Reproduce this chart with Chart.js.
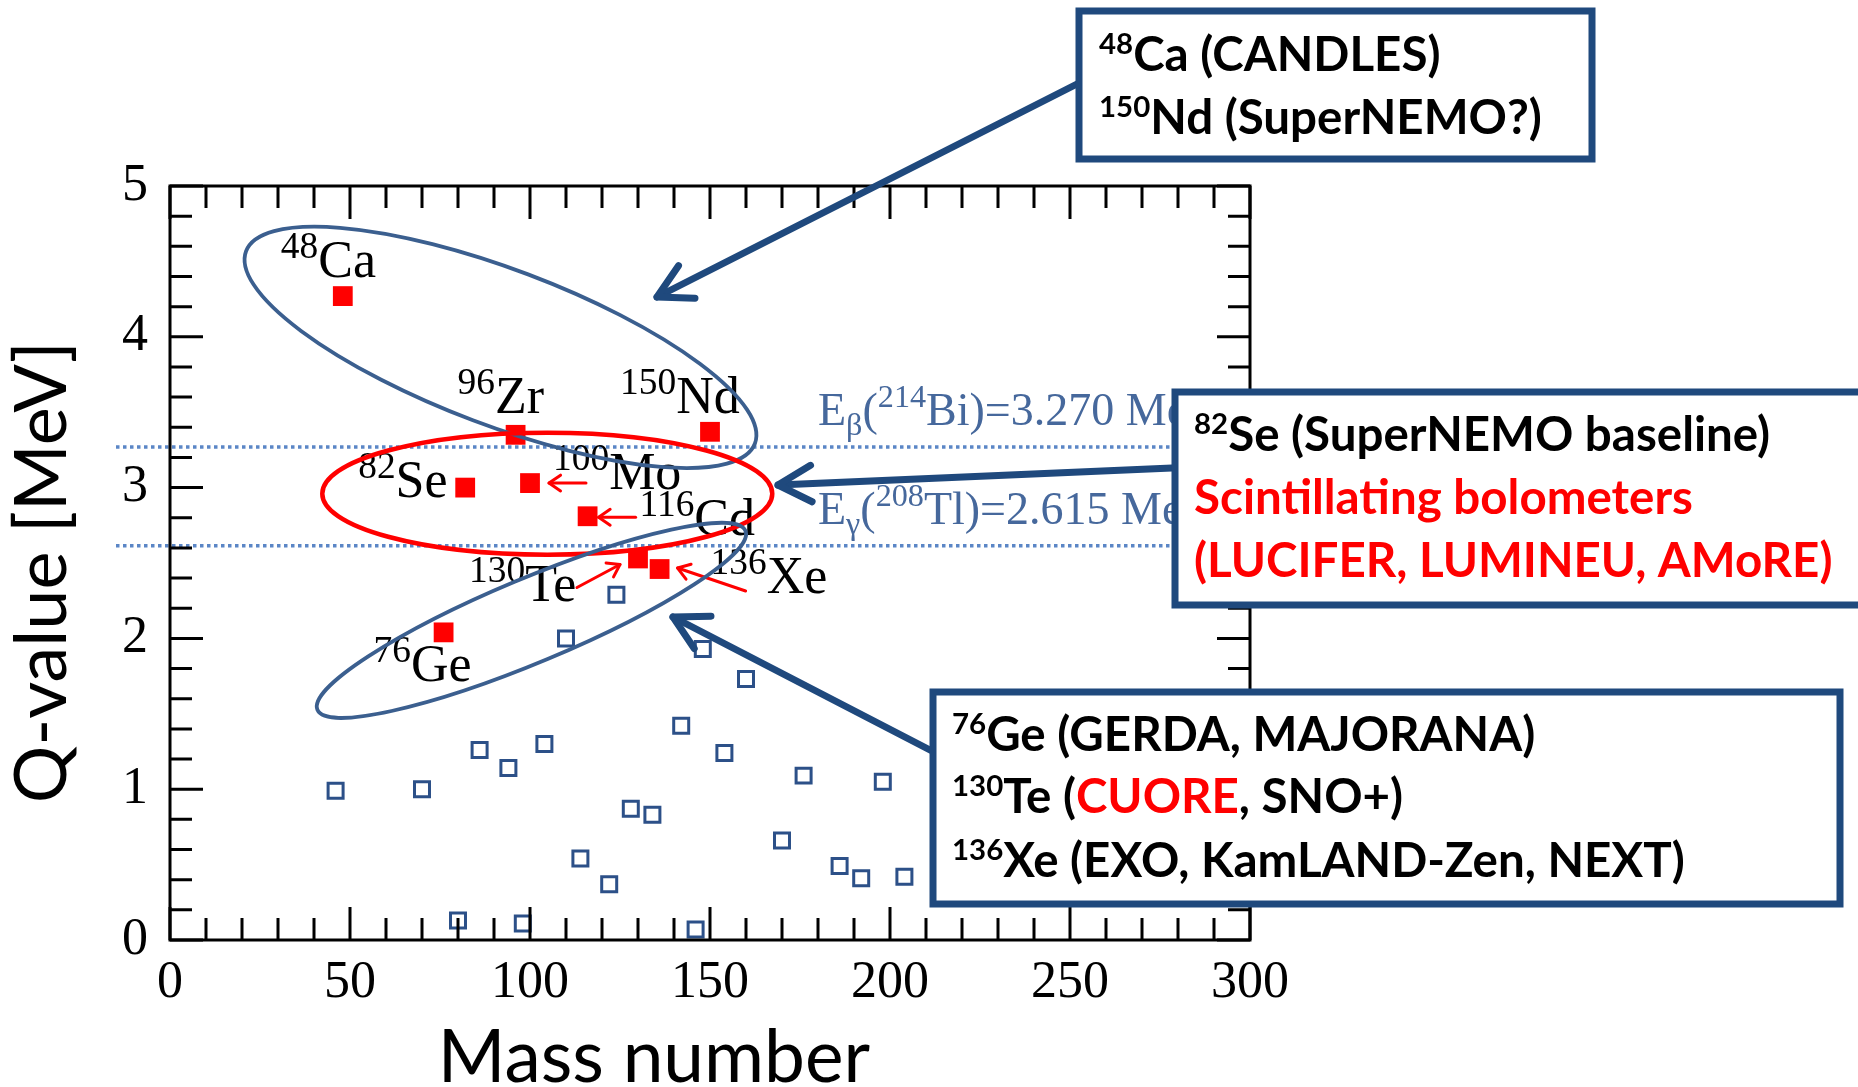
<!DOCTYPE html>
<html>
<head>
<meta charset="utf-8">
<script src="https://cdn.jsdelivr.net/npm/chart.js@4.4.0/dist/chart.umd.min.js"></script>
<style>
  html, body { margin: 0; padding: 0; background: #fff; }
  canvas { display: block; }
</style>
</head>
<body>
<canvas id="chart" width="1858" height="1087"></canvas>
<script>
// isotopes used by experiments (filled red squares)
const massRed = [48, 76, 82, 96, 100, 116, 130, 136, 150];
const qRed = [4.27, 2.04, 3.00, 3.35, 3.03, 2.81, 2.53, 2.46, 3.37];
const isoMass = ['48', '76', '82', '96', '100', '116', '130', '136', '150'];
const isoSymbol = ['Ca', 'Ge', 'Se', 'Zr', 'Mo', 'Cd', 'Te', 'Xe', 'Nd'];

// other double beta emitters (open squares)
const massBlue = [46, 70, 80, 86, 94, 98, 104, 110, 114, 122, 124, 128, 134, 142, 146, 148, 154, 160, 170, 176, 186, 192, 198, 204];
const qBlue = [0.99, 1.00, 0.13, 1.26, 1.14, 0.11, 1.30, 2.00, 0.54, 0.37, 2.29, 0.87, 0.83, 1.42, 0.07, 1.93, 1.24, 1.73, 0.66, 1.09, 0.49, 0.41, 1.05, 0.42];

// background lines (MeV)
const refLevels = [3.270, 2.615];

// axes
const xTicks = [0, 50, 100, 150, 200, 250, 300];
const yTicks = [0, 1, 2, 3, 4, 5];
const xMinorStep = 10;
const yMinorStep = 0.2;

const SERIF = '"Liberation Serif", "Times New Roman", serif';
const SANS = 'Lato, "Open Sans", sans-serif';
const NAVY = '#1f497d';
const RED = '#ff0000';
const STEEL = '#3b5f8f';

// label placement, px offsets from the marker
const labelLayout = [
    { dx: -62, dy: -19 },                              // Ca
    { dx: -70, dy: 49 },                               // Ge
    { dx: -107, dy: 9 },                               // Se
    { dx: -58, dy: -22 },                              // Zr
    { dx: 23, dy: 6, arrow: [56, 0, 19, 0] },          // Mo
    { dx: 52, dy: 19, arrow: [48, 1, 11, 1] },         // Cd
    { dx: -169, dy: 43, arrow: [-61, 29, -18, 6] },    // Te
    { dx: 51, dy: 24, arrow: [86, 22, 18, -1] },       // Xe
    { dx: -90, dy: -19 }                               // Nd
];

const refText = [
    [{ t: 'E' }, { t: 'β', sub: true }, { t: '(' }, { t: '214', sup: true }, { t: 'Bi)=3.270 MeV' }],
    [{ t: 'E' }, { t: 'γ', sub: true }, { t: '(' }, { t: '208', sup: true }, { t: 'Tl)=2.615 MeV' }]
];

// groups circled on the plot (centre in data units, radii in px)
const ellipses = [
    { x: 91.8, y: 3.93, rx: 272, ry: 78, rot: 20.7, color: STEEL, width: 3.8 },
    { x: 104.8, y: 2.96, rx: 225, ry: 61, rot: 0, color: RED, width: 4.5 },
    { x: 100.4, y: 2.12, rx: 232, ry: 42, rot: -22.7, color: STEEL, width: 3.8 }
];

// call-out boxes
const boxes = [
    {
        left: 1079, top: 11, right: 1592, bottom: 159, textX: 1099, baselines: [71, 134],
        lines: [
            [{ t: '48', sup: true }, { t: 'Ca (CANDLES)' }],
            [{ t: '150', sup: true }, { t: 'Nd (SuperNEMO?)' }]
        ]
    },
    {
        left: 1175, top: 392, right: 1900, bottom: 605, textX: 1194, baselines: [451, 514, 577],
        lines: [
            [{ t: '82', sup: true }, { t: 'Se (SuperNEMO baseline)' }],
            [{ t: 'Scintillating bolometers', color: RED }],
            [{ t: '(LUCIFER, LUMINEU, AMoRE)', color: RED }]
        ]
    },
    {
        left: 933, top: 692, right: 1840, bottom: 904, textX: 952, baselines: [751, 813, 877],
        lines: [
            [{ t: '76', sup: true }, { t: 'Ge (GERDA, MAJORANA)' }],
            [{ t: '130', sup: true }, { t: 'Te (' }, { t: 'CUORE', color: RED }, { t: ', SNO+)' }],
            [{ t: '136', sup: true }, { t: 'Xe (EXO, KamLAND-Zen, NEXT)' }]
        ]
    }
];

const pointers = [
    { from: [1077, 84], to: [657, 297] },
    { from: [1172, 468], to: [778, 485] },
    { from: [930, 750], to: [673, 617] }
];

function drawParts(ctx, x, y, parts, o) {
    for (const p of parts) {
        let fs = o.size, dy = 0;
        if (p.sup) { fs = o.size * o.scale; dy = -o.rise; }
        if (p.sub) { fs = o.size * o.scale; dy = o.drop; }
        ctx.font = `${o.weight || 'normal'} ${fs}px ${o.family}`;
        ctx.fillStyle = p.color || o.color;
        ctx.fillText(p.t, x, y + dy);
        x += ctx.measureText(p.t).width;
    }
}

function arrow(ctx, x1, y1, x2, y2, head, spread, width, color) {
    ctx.save();
    ctx.strokeStyle = color;
    ctx.lineWidth = width;
    ctx.lineCap = 'round';
    ctx.lineJoin = 'round';
    ctx.beginPath();
    ctx.moveTo(x1, y1);
    ctx.lineTo(x2, y2);
    ctx.stroke();
    const a = Math.atan2(y1 - y2, x1 - x2);
    ctx.beginPath();
    ctx.moveTo(x2 + head * Math.cos(a + spread), y2 + head * Math.sin(a + spread));
    ctx.lineTo(x2, y2);
    ctx.lineTo(x2 + head * Math.cos(a - spread), y2 + head * Math.sin(a - spread));
    ctx.stroke();
    ctx.restore();
}

const overlay = {
    id: 'overlay',
    beforeDatasetsDraw(chart) {
        const { ctx, scales: { x, y } } = chart;
        ctx.save();
        ctx.strokeStyle = '#5b86c6';
        ctx.lineWidth = 3.5;
        ctx.setLineDash([3.5, 3.5]);
        refLevels.forEach((lv, i) => {
            const py = y.getPixelForValue(lv);
            ctx.beginPath();
            ctx.moveTo(x.getPixelForValue(-15), py);
            ctx.lineTo(x.getPixelForValue(300), py);
            ctx.stroke();
            drawParts(ctx, x.getPixelForValue(180), py - 22, refText[i],
                { size: 46, family: SERIF, color: '#46689c', scale: 0.7, rise: 18, drop: 10 });
        });
        ctx.restore();
    },
    afterDatasetsDraw(chart) {
        const { ctx, chartArea: area, scales: { x, y } } = chart;
        ctx.save();

        // frame with inward ticks on all sides
        ctx.strokeStyle = '#000';
        ctx.lineWidth = 3;
        ctx.strokeRect(area.left, area.top, area.right - area.left, area.bottom - area.top);
        ctx.beginPath();
        for (let i = 0; i * xMinorStep <= 300; i++) {
            const v = i * xMinorStep;
            const px = x.getPixelForValue(v);
            const len = xTicks.includes(v) ? 33 : 22;
            ctx.moveTo(px, area.bottom); ctx.lineTo(px, area.bottom - len);
            ctx.moveTo(px, area.top); ctx.lineTo(px, area.top + len);
        }
        for (let i = 0; i <= 25; i++) {
            const py = y.getPixelForValue(i * yMinorStep);
            const len = i % 5 === 0 ? 33 : 22;
            ctx.moveTo(area.left, py); ctx.lineTo(area.left + len, py);
            ctx.moveTo(area.right, py); ctx.lineTo(area.right - len, py);
        }
        ctx.stroke();

        // isotope names and little red arrows
        ctx.textBaseline = 'alphabetic';
        massRed.forEach((m, i) => {
            const px = x.getPixelForValue(m), py = y.getPixelForValue(qRed[i]);
            const L = labelLayout[i];
            drawParts(ctx, px + L.dx, py + L.dy, [{ t: isoMass[i], sup: true }, { t: isoSymbol[i] }],
                { size: 52, family: SERIF, color: '#000', scale: 0.72, rise: 19 });
            if (L.arrow) {
                const [tx, ty, hx, hy] = L.arrow;
                arrow(ctx, px + tx, py + ty, px + hx, py + hy, 14, 0.6, 3, RED);
            }
        });

        // ellipses
        ellipses.forEach(e => {
            ctx.beginPath();
            ctx.ellipse(x.getPixelForValue(e.x), y.getPixelForValue(e.y), e.rx, e.ry, e.rot * Math.PI / 180, 0, Math.PI * 2);
            ctx.strokeStyle = e.color;
            ctx.lineWidth = e.width;
            ctx.stroke();
        });

        // pointer arrows
        pointers.forEach(p => arrow(ctx, p.from[0], p.from[1], p.to[0], p.to[1], 38, 0.5, 7, NAVY));

        // boxes
        boxes.forEach(b => {
            ctx.fillStyle = '#fff';
            ctx.fillRect(b.left, b.top, b.right - b.left, b.bottom - b.top);
            ctx.strokeStyle = NAVY;
            ctx.lineWidth = 7;
            ctx.strokeRect(b.left, b.top, b.right - b.left, b.bottom - b.top);
            b.lines.forEach((ln, k) => {
                drawParts(ctx, b.textX, b.baselines[k], ln,
                    { size: 47.5, family: SANS, weight: 'bold', color: '#000', scale: 0.62, rise: 17 });
            });
        });

        ctx.restore();
    }
};

new Chart(document.getElementById('chart'), {
    type: 'scatter',
    data: {
        datasets: [
            {
                label: 'other',
                data: massBlue.map((m, i) => ({ x: m, y: qBlue[i] })),
                pointStyle: 'rect',
                pointRadius: 10.6,
                pointBorderWidth: 3,
                pointBorderColor: '#2c5088',
                pointBackgroundColor: 'rgba(0,0,0,0)',
                clip: false
            },
            {
                label: 'candidates',
                data: massRed.map((m, i) => ({ x: m, y: qRed[i] })),
                pointStyle: 'rect',
                pointRadius: 14,
                pointBorderWidth: 0,
                pointBackgroundColor: RED,
                clip: false
            }
        ]
    },
    options: {
        responsive: false,
        animation: false,
        layout: { padding: { top: 186, right: 608, left: 0, bottom: 0 } },
        plugins: { legend: { display: false }, tooltip: { enabled: false } },
        scales: {
            x: {
                type: 'linear',
                min: 0,
                max: 300,
                afterBuildTicks: s => { s.ticks = xTicks.map(v => ({ value: v })); },
                afterFit: s => { s.height = 147; },
                grid: { display: false, drawTicks: false },
                border: { display: false },
                ticks: { color: '#000', font: { family: SERIF, size: 52 }, padding: 12, maxRotation: 0, autoSkip: false },
                title: {
                    display: true,
                    text: 'Mass number      ',
                    color: '#000',
                    font: { family: SANS, size: 73, lineHeight: 0.77 },
                    padding: { top: 0, bottom: 0 }
                }
            },
            y: {
                type: 'linear',
                min: 0,
                max: 5,
                afterBuildTicks: s => { s.ticks = yTicks.map(v => ({ value: v })); },
                afterFit: s => { s.width = 170; },
                grid: { display: false, drawTicks: false },
                border: { display: false },
                ticks: { color: '#000', font: { family: SERIF, size: 52 }, padding: 22, autoSkip: false },
                title: {
                    display: true,
                    text: 'Q-value [MeV] ',
                    color: '#000',
                    font: { family: SANS, size: 72 },
                    padding: { top: 0, bottom: 0 }
                }
            }
        }
    },
    plugins: [overlay]
});
</script>
</body>
</html>
